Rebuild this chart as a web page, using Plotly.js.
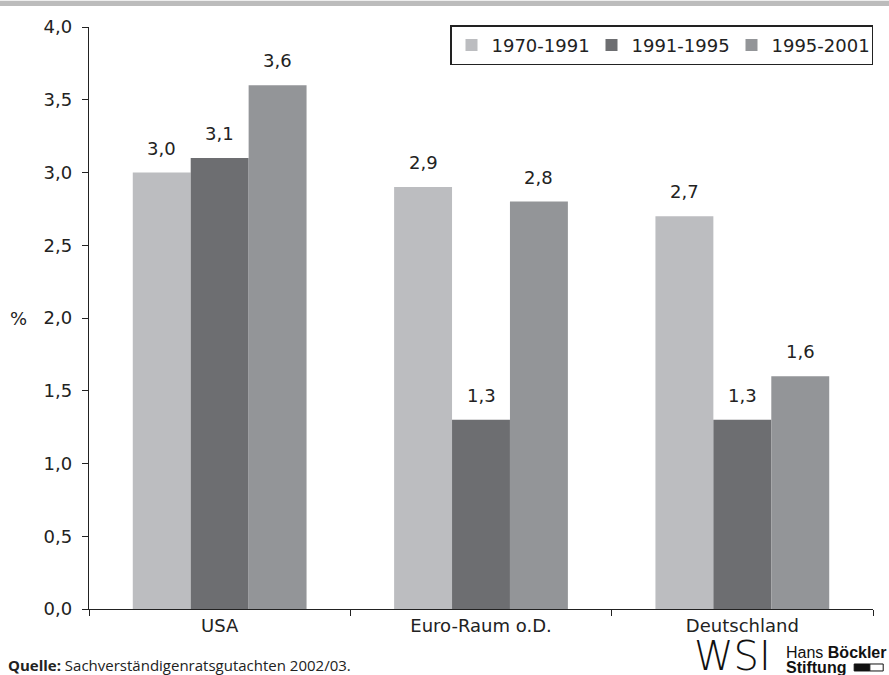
<!DOCTYPE html>
<html><head><meta charset="utf-8">
<script src="https://cdn.plot.ly/plotly-3.0.1.min.js"></script>
<style>body{margin:0;background:#fff}#c{width:889px;height:675px}</style>
</head><body><div id="c"></div>
<script>
const categories = ["USA", "Euro-Raum o.D.", "Deutschland"];
const seriesNames = ["1970-1991", "1991-1995", "1995-2001"];
const s1970_1991 = [3.0, 2.9, 2.7];
const s1991_1995 = [3.1, 1.3, 1.3];
const s1995_2001 = [3.6, 2.8, 1.6];
const yTicks = [0, 0.5, 1, 1.5, 2, 2.5, 3, 3.5, 4];
const yTickLabels = ["0,0", "0,5", "1,0", "1,5", "2,0", "2,5", "3,0", "3,5", "4,0"];

const series = [s1970_1991, s1991_1995, s1995_2001];
const colors = ["#bcbdc0", "#6d6e71", "#939598"];
const FONT = "DejaVu Sans, sans-serif";
const TXT = "#222";

const traces = series.map((vals, i) => ({
  type: "bar", name: seriesNames[i], x: categories, y: vals,
  marker: {color: colors[i], line: {width: 0}},
  hoverinfo: "none"
}));

const bargap = 0.335;
const barW = (1 - bargap) / 3;
const annotations = [];
series.forEach((vals, i) => {
  vals.forEach((v, k) => {
    annotations.push({
      xref: "x", yref: "y", x: k + (i - 1) * barW, y: v,
      text: v.toFixed(1).replace(".", ","), showarrow: false,
      yanchor: "bottom", yshift: 12, font: {family: FONT, size: 18, color: TXT}
    });
  });
});
annotations.push({xref: "paper", yref: "paper", x: -0.103, y: 0.5, xanchor: "left",
  text: "%", showarrow: false, font: {family: FONT, size: 18, color: TXT}});
annotations.push({xref: "paper", yref: "paper", x: -0.105, y: -0.097, xanchor: "left", yanchor: "middle",
  text: "<b>Quelle:</b> Sachverständigenratsgutachten 2002/03.", showarrow: false, borderpad: 0,
  font: {family: "Open Sans, sans-serif", size: 15, color: TXT}});
annotations.push({xref: "paper", yref: "paper", x: 0.771, y: -0.081, xanchor: "left", yanchor: "middle",
  text: "WSI", showarrow: false, borderpad: 0, font: {family: "DejaVu Sans, sans-serif", size: 40, color: "#111", weight: 200}});
annotations.push({xref: "paper", yref: "paper", x: 0.888, y: -0.0745, xanchor: "left", yanchor: "middle",
  text: "Hans <b>Böckler</b>", showarrow: false, borderpad: 0, font: {family: "Liberation Sans, Arial, sans-serif", size: 16, color: "#111"}});
annotations.push({xref: "paper", yref: "paper", x: 0.888, y: -0.101, xanchor: "left", yanchor: "middle",
  text: "<b>Stiftung</b>", showarrow: false, borderpad: 0, font: {family: "Liberation Sans, Arial, sans-serif", size: 16, color: "#111"}});

const layout = {
  width: 889, height: 675,
  margin: {l: 89, r: 16, t: 27, b: 66},
  paper_bgcolor: "#fff", plot_bgcolor: "#fff",
  barmode: "group", bargap: bargap, bargroupgap: 0,
  font: {family: FONT, size: 18, color: TXT},
  showlegend: true,
  legend: {orientation: "h", x: 1, xanchor: "right", y: 1.003, yanchor: "top",
    bordercolor: "#222", borderwidth: 1.5, bgcolor: "#fff",
    font: {family: FONT, size: 18, color: TXT}, traceorder: "normal",
    itemwidth: 30, tracegroupgap: 0, entrywidth: 95, entrywidthmode: "pixels"},
  xaxis: {type: "category", showline: true, linecolor: "#222", linewidth: 1.2,
    ticks: "outside", tickson: "boundaries", ticklen: 6, tickcolor: "#222",
    showgrid: false, zeroline: false, tickfont: {family: FONT, size: 18, color: TXT}},
  yaxis: {range: [0, 4], tickvals: yTicks, ticktext: yTickLabels,
    showline: true, linecolor: "#222", linewidth: 1.2,
    ticks: "outside", ticklen: 6, tickcolor: "#222", ticklabelstandoff: 6,
    showgrid: false, zeroline: false, tickfont: {family: FONT, size: 18, color: TXT}},
  annotations: annotations,
  shapes: [
    {type: "rect", xref: "paper", yref: "paper", x0: -0.2, x1: 1.1, y0: 1.036, y1: 1.045,
      fillcolor: "#bcbcbc", line: {width: 0}},
    {type: "rect", xref: "paper", yref: "paper", x0: 0.976, x1: 0.996, y0: -0.1065, y1: -0.0945,
      fillcolor: "#111", line: {width: 1, color: "#111"}},
    {type: "rect", xref: "paper", yref: "paper", x0: 0.996, x1: 1.013, y0: -0.1065, y1: -0.0945,
      fillcolor: "#fff", line: {width: 1, color: "#111"}}
  ]
};
Plotly.newPlot("c", traces, layout, {displayModeBar: false, staticPlot: true});
</script></body></html>
